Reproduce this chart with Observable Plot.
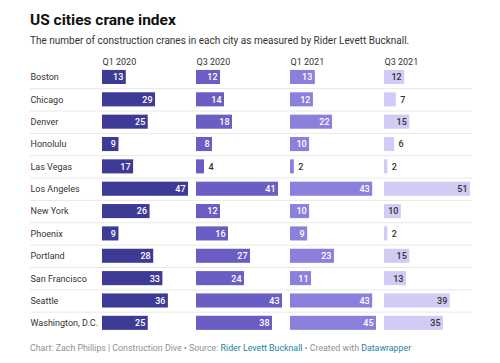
<!DOCTYPE html>
<html><head><meta charset="utf-8">
<script src="https://cdn.jsdelivr.net/npm/d3@7"></script>
<script src="https://cdn.jsdelivr.net/npm/@observablehq/plot@0.6"></script>
<style>
body{margin:0;background:#fff;font-family:Roboto,sans-serif;width:500px;overflow:hidden}
#title{padding:8px 0 0 30px;height:24px;line-height:24px;font-size:15.5px;font-weight:700;color:#111}
#subtitle{padding-left:30px;height:18px;line-height:18px;font-size:10px;color:#333}
#footer{padding-left:30px;height:20px;line-height:20px;font-size:8.8px;color:#909090;margin-top:2px;white-space:nowrap}
#footer span.l{color:#1d81a2}
svg{display:block}
</style></head><body>
<div id="title">US cities crane index</div>
<div id="subtitle">The number of construction cranes in each city as measured by Rider Levett Bucknall.</div>
<div id="chart"></div>
<div id="footer">Chart: Zach Phillips | Construction Dive • Source: <span class="l">Rider Levett Bucknall</span> • Created with <span class="l">Datawrapper</span></div>
<script>
const cities = ["Boston","Chicago","Denver","Honolulu","Las Vegas","Los Angeles","New York","Phoenix","Portland","San Francisco","Seattle","Washington, D.C."];
const quarters = ["Q1 2020","Q3 2020","Q1 2021","Q3 2021"];
const q1_2020 = [13,29,25,9,17,47,26,9,28,33,36,25];
const q3_2020 = [12,14,18,8,4,41,12,16,27,24,43,38];
const q1_2021 = [13,12,22,10,2,43,10,9,23,11,43,45];
const q3_2021 = [12,7,15,6,2,51,10,2,15,13,39,35];
const colors = ["#3e3b97","#6a5ec4","#8b81dd","#d1ccf6"];

const series = [q1_2020, q3_2020, q1_2021, q3_2021];
const STEP = 94, BARW = 86;
const FRAC = BARW / STEP;
const rows = [];
series.forEach((vals, qi) => {
  const max = d3.max(vals);
  vals.forEach((v, ci) => {
    const f = v / max;
    rows.push({city: cities[ci], quarter: quarters[qi], qi, value: v, x1: qi, x2: qi + f * FRAC, inside: f * BARW >= 14});
  });
});

const H = 286, MT = 15.8, MB = 2;
const rowStep = (H - MT - MB) / cities.length;

const chart = Plot.plot({
  width: 500, height: H,
  marginLeft: 102, marginRight: 22, marginTop: MT, marginBottom: MB,
  x: {domain: [0, quarters.length], axis: null},
  y: {domain: cities, paddingInner: 0.37, paddingOuter: 0.185, round: false, axis: null},
  color: {domain: quarters, range: colors},
  style: {fontFamily: "Roboto, sans-serif", fontSize: "9px", color: "#333", background: "transparent"},
  marks: [
    Plot.ruleY(cities.slice(1), {y: d => d, dy: -rowStep / 2, insetLeft: -72, insetRight: 6, stroke: "#e8e8e8"}),
    Plot.barX(rows, {x1: "x1", x2: "x2", y: "city", fill: "quarter"}),
    Plot.text(rows.filter(d => d.inside && d.qi < 3), {x: "x2", y: "city", text: "value", textAnchor: "end", dx: -3, fill: "#fff", fontWeight: 500}),
    Plot.text(rows.filter(d => d.inside && d.qi === 3), {x: "x2", y: "city", text: "value", textAnchor: "end", dx: -3, fill: "#333", fontWeight: 500}),
    Plot.text(rows.filter(d => !d.inside), {x: "x2", y: "city", text: "value", textAnchor: "start", dx: 4, fill: "#333", fontWeight: 500}),
    Plot.text(cities, {y: d => d, frameAnchor: "left", dx: -72, textAnchor: "start", fill: "#333"}),
    Plot.text(quarters, {x: (d, i) => i, frameAnchor: "top", dy: -4, textAnchor: "start", lineAnchor: "middle", fill: "#333"})
  ]
});
document.getElementById("chart").appendChild(chart);
</script>
</body></html>
